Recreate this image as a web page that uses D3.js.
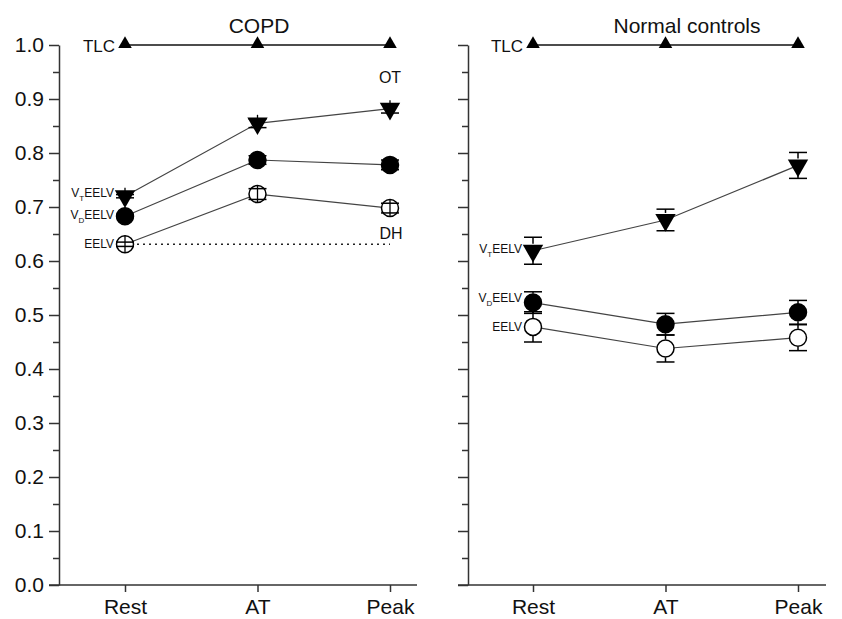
<!DOCTYPE html>
<html>
<head>
<meta charset="UTF-8">
<title>EELV COPD vs Normal controls</title>
<script src="https://cdn.jsdelivr.net/npm/d3@7"></script>
<style>
  body { margin: 0; background: #fff; }
  text { font-family: "Liberation Sans", Arial, sans-serif; fill: #111; }
</style>
</head>
<body>
<div id="chart"></div>
<script>
// categories and tick values
var phases = ["Rest", "AT", "Peak"];
var yMajor = [0, 0.1, 0.2, 0.3, 0.4, 0.5, 0.6, 0.7, 0.8, 0.9, 1.0];
var yMinor = [0.05, 0.15, 0.25, 0.35, 0.45, 0.55, 0.65, 0.75, 0.85, 0.95];

// COPD (fraction of TLC) and SE
var copdTLC = [1.0, 1.0, 1.0];
var copdVT = [0.720, 0.855, 0.882];
var copdVTerr = [0.003, 0.008, 0.008];
var copdVD = [0.683, 0.787, 0.778];
var copdVDerr = [0.003, 0.008, 0.009];
var copdEELV = [0.631, 0.724, 0.698];
var copdEELVerr = [0.004, 0.010, 0.009];

// Normal controls
var normTLC = [1.0, 1.0, 1.0];
var normVT = [0.619, 0.676, 0.777];
var normVTerr = [0.025, 0.020, 0.024];
var normVD = [0.523, 0.483, 0.505];
var normVDerr = [0.020, 0.020, 0.022];
var normEELV = [0.478, 0.438, 0.458];
var normEELVerr = [0.028, 0.025, 0.024];

var W = 842, H = 619;
var svg = d3.select("#chart").append("svg").attr("width", W).attr("height", H);

var y = d3.scaleLinear().domain([0, 1]).range([585, 45]);

function panel(opt) {
  var g = svg.append("g");
  var x = d3.scalePoint().domain(phases).range(opt.xr);

  // y axis: major + minor ticks
  var ax = d3.axisLeft(y).tickValues(yMajor).tickSize(10).tickSizeOuter(0)
    .tickFormat(opt.labels ? d3.format(".1f") : function () { return ""; });
  var ga = g.append("g").attr("transform", "translate(" + opt.ax + ",0)").call(ax);
  ga.selectAll("text").style("font-size", "21px").attr("x", -15);
  var am = d3.axisLeft(y).tickValues(yMinor).tickSize(6).tickFormat("");
  var gm = g.append("g").attr("transform", "translate(" + opt.ax + ",0)").call(am);
  gm.select(".domain").remove();
  g.selectAll(".domain, .tick line").attr("stroke", "#333").attr("stroke-width", 1.5);

  // x axis
  g.append("line").attr("x1", opt.ax - 10).attr("x2", opt.xEnd)
    .attr("y1", y(0)).attr("y2", y(0)).attr("stroke", "#333").attr("stroke-width", 1.5);
  var bx = d3.axisBottom(x).tickSize(7).tickSizeOuter(0);
  var gb = g.append("g").attr("transform", "translate(0," + y(0) + ")").call(bx);
  gb.select(".domain").remove();
  gb.selectAll(".tick line").attr("stroke", "#333").attr("stroke-width", 1.5);
  gb.selectAll("text").style("font-size", "21px").attr("y", 14);

  // title
  g.append("text").attr("x", opt.titleX).attr("y", 33).attr("text-anchor", "middle")
    .style("font-size", "21px").text(opt.title);

  var line = d3.line().x(function (d, i) { return x(phases[i]); }).y(function (d) { return y(d); });

  // TLC
  g.append("path").attr("d", line(opt.tlc)).attr("fill", "none").attr("stroke", "#111").attr("stroke-width", 1.3);

  var series = opt.series;
  series.forEach(function (s) {
    g.append("path").attr("d", line(s.v)).attr("fill", "none").attr("stroke", "#444").attr("stroke-width", 1.2);
  });

  if (opt.dotted) {
    g.append("line").attr("x1", x("Rest")).attr("x2", x("Peak"))
      .attr("y1", y(opt.dotted)).attr("y2", y(opt.dotted))
      .attr("stroke", "#222").attr("stroke-width", 1.3).attr("stroke-dasharray", "2,4");
  }

  // markers
  g.selectAll(".tlc").data(opt.tlc).enter().append("path")
    .attr("d", d3.symbol().type(d3.symbolTriangle).size(80))
    .attr("transform", function (d, i) { return "translate(" + x(phases[i]) + "," + (y(d) - 1) + ")"; })
    .attr("fill", "#000");

  series.forEach(function (s) {
    var gs = g.append("g");
    s.v.forEach(function (v, i) {
      var cx = x(phases[i]), cy = y(v), r = 9;
      if (s.shape === "tri") {
        gs.append("path").attr("d", d3.symbol().type(d3.symbolTriangle).size(180)())
          .attr("transform", "translate(" + cx + "," + cy + ") rotate(180)").attr("fill", "#000");
        r = 7;
      } else {
        gs.append("circle").attr("cx", cx).attr("cy", cy).attr("r", 8.5)
          .attr("fill", s.shape === "open" ? "#fff" : "#000").attr("stroke", "#000").attr("stroke-width", 1.5);
      }
      // error bar
      var e = s.e[i], top = y(v + e), bot = y(v - e);
      if (cy - top > r) {
        gs.append("line").attr("x1", cx).attr("x2", cx).attr("y1", top).attr("y2", cy - r).attr("stroke", "#000").attr("stroke-width", 1.5);
        gs.append("line").attr("x1", cx).attr("x2", cx).attr("y1", cy + r).attr("y2", bot).attr("stroke", "#000").attr("stroke-width", 1.5);
      } else {
        gs.append("line").attr("x1", cx).attr("x2", cx).attr("y1", cy - 8.5).attr("y2", cy + 8.5).attr("stroke", "#000").attr("stroke-width", 1.3);
      }
      [top, bot].forEach(function (yy) {
        gs.append("line").attr("x1", cx - 9).attr("x2", cx + 9).attr("y1", yy).attr("y2", yy)
          .attr("stroke", "#000").attr("stroke-width", 1.5);
      });
    });
    // series label at rest
    var t = g.append("text").attr("x", x("Rest") - 11).attr("y", y(s.v[0]) + s.ly)
      .attr("text-anchor", "end").style("font-size", "12px");
    if (s.sub) {
      t.append("tspan").text("V");
      t.append("tspan").attr("dy", 4).style("font-size", "8px").text(s.sub);
      t.append("tspan").attr("dy", -4).text("EELV");
    } else {
      t.text("EELV");
    }
  });

  g.append("text").attr("x", x("Rest") - 10).attr("y", y(1) + 7).attr("text-anchor", "end")
    .style("font-size", "17px").text("TLC");

  return { g: g, x: x };
}

var left = panel({
  xr: [125, 390], ax: 59, xEnd: 417, labels: true, title: "COPD", titleX: 259,
  tlc: copdTLC, dotted: copdEELV[0],
  series: [
    { v: copdVT, e: copdVTerr, shape: "tri", sub: "T", ly: 1 },
    { v: copdVD, e: copdVDerr, shape: "filled", sub: "D", ly: 3 },
    { v: copdEELV, e: copdEELVerr, shape: "open", sub: null, ly: 4 }
  ]
});
left.g.append("text").attr("x", left.x("Peak")).attr("y", 83).attr("text-anchor", "middle").style("font-size", "16px").text("OT");
left.g.append("text").attr("x", left.x("Peak") + 1).attr("y", 239).attr("text-anchor", "middle").style("font-size", "16px").text("DH");

panel({
  xr: [533, 798], ax: 468, xEnd: 826, labels: false, title: "Normal controls", titleX: 687,
  tlc: normTLC, dotted: null,
  series: [
    { v: normVT, e: normVTerr, shape: "tri", sub: "T", ly: 2 },
    { v: normVD, e: normVDerr, shape: "filled", sub: "D", ly: -1 },
    { v: normEELV, e: normEELVerr, shape: "open", sub: null, ly: 4 }
  ]
});
</script>
</body>
</html>
